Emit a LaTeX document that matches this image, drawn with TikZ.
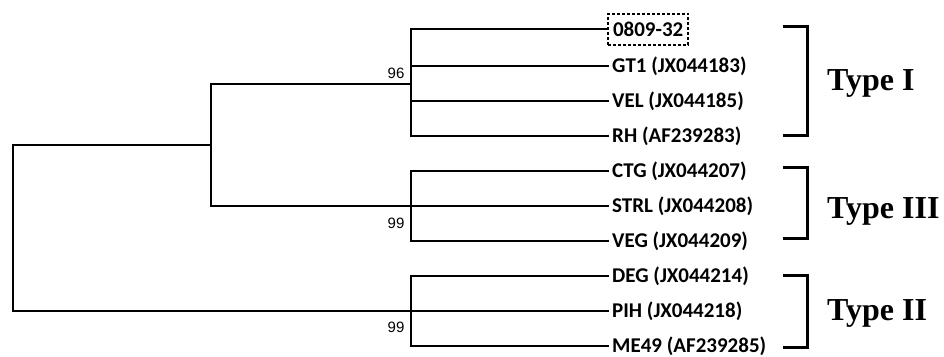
\documentclass[tikz,border=0pt]{standalone}
\usepackage{fontspec}
\setmainfont{Carlito}
\newfontfamily\bootfont{Liberation Sans}
\newfontfamily\typefont{Liberation Serif}
\usetikzlibrary{positioning}

\tikzset{
  branch/.style={line width=2.5pt},
  leaf/.style={anchor=west, inner sep=3pt, font=\fontsize{21}{24}\selectfont\bfseries},
  boot/.style={inner sep=0pt, font=\bootfont\fontsize{15}{17}\selectfont},
  bracket/.style={line width=3pt},
  typelabel/.style={anchor=west, inner sep=0pt, font=\typefont\bfseries\fontsize{32}{36}\selectfont}
}

\begin{document}
\begin{tikzpicture}[x=1pt, y=-1pt]

\useasboundingbox (0,0) rectangle (944,356);

% Internal nodes
\coordinate (root) at (13,228);
\coordinate (n2) at (211,145);
\coordinate (cI) at (411,84);
\coordinate (cIII) at (411,206);
\coordinate (cII) at (411,311);

% Leaves
\node[leaf, draw, dashed, dash pattern=on 3pt off 2pt, line width=2pt,
      inner xsep=5pt, minimum height=31pt] (s0809) at (607,29) {0809-32};
\node[leaf] (gt1) at (609,66) {GT1 (JX044183)};
\node[leaf] (vel) at (609,101) {VEL (JX044185)};
\node[leaf] (rh) at (609,136) {RH (AF239283)};
\node[leaf] (ctg) at (609,171) {CTG (JX044207)};
\node[leaf] (strl) at (609,206) {STRL (JX044208)};
\node[leaf] (veg) at (609,241) {VEG (JX044209)};
\node[leaf] (deg) at (609,276) {DEG (JX044214)};
\node[leaf] (pih) at (609,311) {PIH (JX044218)};
\node[leaf] (me49) at (609,346) {ME49 (AF239285)};

% Branches
\draw[branch] (root) |- (n2);
\draw[branch] (root) |- (cII);
\draw[branch] (n2) |- (cI);
\draw[branch] (n2) |- (cIII);

\draw[branch] (cI) |- (s0809.west);
\draw[branch] (cI) |- (gt1.west);
\draw[branch] (cI) |- (vel.west);
\draw[branch] (cI) |- (rh.west);

\draw[branch] (cIII) |- (ctg.west);
\draw[branch] (cIII) -- (strl.west);
\draw[branch] (cIII) |- (veg.west);

\draw[branch] (cII) |- (deg.west);
\draw[branch] (cII) -- (pih.west);
\draw[branch] (cII) |- (me49.west);

% Bootstrap values
\node[boot] (b96) at (396,73) {96};
\node[boot] (b99a) at (396,223) {99};
\node[boot] (b99b) at (396,327) {99};

% Groups
\draw[bracket] (783,26) -| (807,135) -- (783,135);
\node[typelabel] (tI) at (827,83) {Type I};

\draw[bracket] (783,167) -| (807,238) -- (783,238);
\node[typelabel] (tIII) at (827,211) {Type III};

\draw[bracket] (783,275) -| (807,347) -- (783,347);
\node[typelabel] (tII) at (827,313) {Type II};

\end{tikzpicture}
\end{document}
